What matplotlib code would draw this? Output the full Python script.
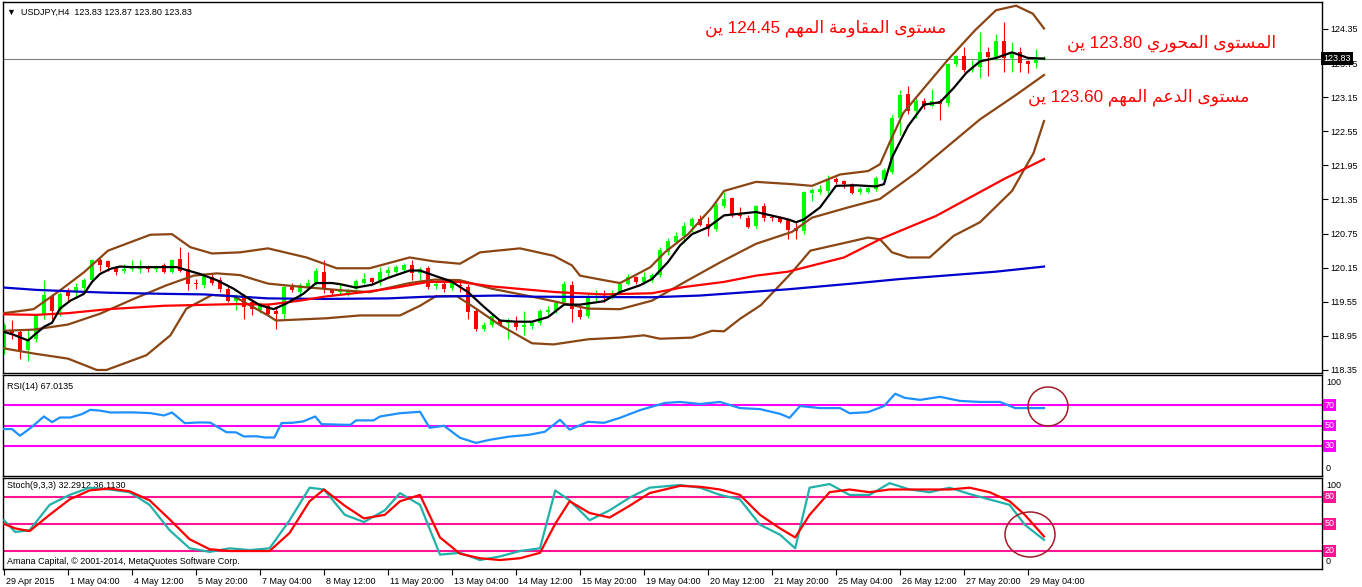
"""USDJPY H4 chart (MT4 style): candles, bands, MAs, RSI and Stochastic panes."""

import re

import matplotlib

matplotlib.use("Agg")
import matplotlib.pyplot as plt  # noqa: E402
from matplotlib.patches import Ellipse  # noqa: E402
from matplotlib.transforms import ScaledTranslation, blended_transform_factory  # noqa: E402

plt.rcParams["font.family"] = ["Liberation Sans", "DejaVu Sans"]

W, H = 1362, 587

# --- data ---------------------------------------------------------------------

opens = [118.73, 119.05, 119.02, 118.70, 118.90, 119.31, 119.66, 119.40, 119.72, 119.72,
         119.80, 119.93, 120.28, 120.26, 120.16, 120.10, 120.12, 120.13, 120.15, 120.13,
         120.19, 120.08, 120.30, 120.13, 119.87, 119.84, 119.98, 119.93, 119.77, 119.56,
         119.62, 119.55, 119.41, 119.48, 119.38, 119.34, 119.81, 119.73, 119.80, 119.88,
         120.08, 119.75, 119.72, 119.71, 119.77, 119.88, 119.96, 119.91, 120.05, 120.08,
         120.11, 120.20, 120.05, 120.15, 119.82, 119.87, 119.79, 119.85, 119.81, 119.38,
         119.08, 119.15, 119.23, 119.18, 119.18, 119.10, 119.12, 119.18, 119.37, 119.38,
         119.55, 119.85, 119.41, 119.30, 119.63, 119.63, 119.62, 119.72, 119.87, 119.98,
         119.90, 119.93, 120.02, 120.42, 120.60, 120.70, 120.89, 121.00, 120.92, 120.83,
         121.23, 121.37, 121.08, 121.03, 120.88, 121.24, 121.05, 121.03, 120.99, 120.84,
         120.79, 121.47, 121.48, 121.50, 121.71, 121.68, 121.62, 121.48, 121.49, 121.53,
         121.70, 121.83, 122.79, 123.21, 122.90, 123.09, 123.00, 123.09, 123.04, 123.74,
         123.87, 123.63, 123.69, 123.95, 123.86, 124.13, 123.84, 123.94, 123.79, 123.75,
         123.83]
highs = [119.18, 119.23, 119.05, 119.08, 119.34, 119.93, 119.69, 119.72, 119.80, 119.88,
         119.97, 120.31, 120.32, 120.28, 120.18, 120.22, 120.28, 120.28, 120.20, 120.20,
         120.23, 120.31, 120.51, 120.42, 119.95, 120.05, 120.05, 119.98, 119.82, 119.68,
         119.68, 119.60, 119.55, 119.52, 119.45, 119.86, 119.88, 119.88, 119.95, 120.14,
         120.28, 119.78, 119.87, 119.78, 119.95, 120.06, 119.98, 120.17, 120.17, 120.20,
         120.23, 120.28, 120.16, 120.18, 119.92, 119.92, 119.95, 119.90, 119.86, 119.42,
         119.20, 119.33, 119.25, 119.26, 119.30, 119.38, 119.22, 119.42, 119.47, 119.57,
         119.92, 119.92, 119.45, 119.68, 119.75, 119.75, 119.75, 119.90, 120.04, 120.01,
         120.08, 120.06, 120.52, 120.67, 120.78, 120.95, 121.05, 121.08, 121.05, 121.30,
         121.48, 121.40, 121.22, 121.07, 121.26, 121.28, 121.08, 121.06, 121.00, 120.98,
         121.50, 121.55, 121.60, 121.78, 121.74, 121.70, 121.64, 121.57, 121.58, 121.76,
         121.90, 122.84, 123.27, 123.35, 123.17, 123.14, 123.30, 123.12, 123.76, 123.90,
         124.04, 123.80, 124.30, 124.03, 124.27, 124.47, 124.12, 124.03, 123.80, 124.00,
         123.87]
lows = [118.64, 118.90, 118.55, 118.50, 118.85, 119.25, 119.25, 119.30, 119.55, 119.62,
        119.75, 119.90, 120.10, 120.10, 120.03, 120.05, 120.10, 120.06, 120.08, 120.08,
        120.05, 120.05, 120.08, 119.75, 119.77, 119.80, 119.85, 119.72, 119.55, 119.40,
        119.25, 119.32, 119.35, 119.30, 119.08, 119.25, 119.72, 119.64, 119.75, 119.85,
        119.70, 119.65, 119.68, 119.66, 119.75, 119.86, 119.84, 119.85, 120.00, 120.05,
        120.08, 119.93, 119.92, 119.78, 119.78, 119.72, 119.76, 119.72, 119.25, 119.03,
        119.03, 119.10, 119.12, 118.90, 119.05, 118.96, 119.08, 119.15, 119.30, 119.35,
        119.52, 119.20, 119.25, 119.26, 119.55, 119.55, 119.60, 119.68, 119.85, 119.87,
        119.87, 119.90, 119.99, 120.38, 120.56, 120.58, 120.78, 120.88, 120.70, 120.80,
        121.20, 121.05, 121.03, 120.84, 120.85, 120.98, 120.97, 120.93, 120.65, 120.65,
        120.74, 121.33, 121.44, 121.45, 121.62, 121.56, 121.45, 121.44, 121.47, 121.50,
        121.66, 121.80, 122.49, 122.85, 122.78, 122.95, 122.97, 122.75, 123.00, 123.70,
        123.60, 123.60, 123.49, 123.52, 123.80, 123.60, 123.60, 123.60, 123.58, 123.67,
        123.80]
closes = [119.14, 119.00, 118.70, 118.87, 119.31, 119.67, 119.38, 119.69, 119.65, 119.81,
          119.93, 120.28, 120.20, 120.17, 120.08, 120.13, 120.15, 120.16, 120.13, 120.14,
          120.07, 120.28, 120.10, 119.87, 119.86, 120.01, 119.88, 119.77, 119.57, 119.61,
          119.46, 119.42, 119.50, 119.34, 119.33, 119.81, 119.75, 119.84, 119.88, 120.10,
          119.78, 119.70, 119.76, 119.76, 119.91, 119.95, 119.90, 120.07, 120.11, 120.16,
          120.20, 120.05, 120.13, 119.81, 119.87, 119.78, 119.89, 119.83, 119.37, 119.08,
          119.15, 119.30, 119.15, 119.20, 119.10, 119.15, 119.18, 119.38, 119.41, 119.52,
          119.87, 119.43, 119.28, 119.62, 119.64, 119.62, 119.68, 119.87, 119.98, 119.90,
          119.99, 120.03, 120.47, 120.62, 120.70, 120.88, 121.00, 120.90, 120.83, 121.25,
          121.36, 121.09, 121.06, 120.86, 121.23, 121.02, 121.02, 120.96, 120.82, 120.80,
          121.48, 121.52, 121.53, 121.71, 121.66, 121.62, 121.47, 121.53, 121.55, 121.73,
          121.87, 122.79, 123.19, 122.90, 123.09, 123.00, 123.08, 123.03, 123.74, 123.88,
          123.63, 123.67, 123.95, 123.86, 124.13, 123.84, 123.95, 123.76, 123.74, 123.84,
          123.83]

band_up_x = [0, 3.7, 7, 10, 13, 18.3, 21, 23.3, 26, 29.5, 33, 37.8, 41.6, 45.7, 50.7, 53.8,
             57, 59.5, 64.5, 68.7, 71, 72, 75, 77, 78.8, 80.8, 82.6, 85.5, 88.5, 90, 94,
             98.5, 101, 104.5, 108, 109.5, 110.7, 112.4, 115, 118, 121.4, 124, 126.5,
             128.6, 130]
band_up = [119.35, 119.42, 119.75, 120.07, 120.45, 120.73, 120.74, 120.51, 120.40, 120.42,
           120.49, 120.33, 120.14, 120.14, 120.33, 120.26, 120.22, 120.42, 120.49, 120.36,
           120.19, 120.01, 119.93, 119.88, 120.01, 120.16, 120.42, 120.74, 121.21, 121.50,
           121.66, 121.62, 121.59, 121.79, 121.85, 121.97, 122.35, 122.87, 123.31, 123.81,
           124.33, 124.68, 124.76, 124.62, 124.36]
band_mid_x = [0, 3.7, 8, 12, 16.2, 20.3, 23.7, 26.6, 29.5, 33, 37.4, 42.4, 45.7, 50.7, 53.8,
              57, 61, 66, 68.7, 73, 77, 81, 85.5, 89.6, 94, 98.5, 101, 105.5, 109.5, 114,
              118, 122, 126.5, 130]
band_mid = [119.04, 119.06, 119.15, 119.34, 119.60, 119.84, 120.01, 120.05, 120.02, 119.87,
            119.81, 119.75, 119.72, 119.88, 119.94, 119.93, 119.78, 119.64, 119.56, 119.43,
            119.42, 119.57, 119.93, 120.25, 120.57, 120.78, 121.03, 121.21, 121.36, 121.82,
            122.29, 122.76, 123.19, 123.54]
band_lo_x = [0, 3.7, 8, 11.6, 12.8, 17.8, 20.8, 22.8, 26, 28.7, 33, 34, 40.3, 44.5, 49.5, 52,
             54, 56.6, 59, 62, 66, 68.7, 73, 77, 80, 82, 86, 88.5, 90, 92, 94.6, 98.5,
             100.8, 105.5, 108, 109.5, 111, 113, 115.7, 118.7, 122, 126, 128.7, 130]
band_lo = [118.73, 118.64, 118.55, 118.35, 118.35, 118.61, 118.96, 119.43, 119.67, 119.65,
           119.31, 119.22, 119.26, 119.31, 119.31, 119.48, 119.65, 119.65, 119.43, 119.14,
           118.82, 118.80, 118.89, 118.92, 118.96, 118.90, 118.92, 119.04, 119.03, 119.25,
           119.49, 120.07, 120.45, 120.60, 120.68, 120.65, 120.42, 120.33, 120.33, 120.71,
           120.95, 121.50, 122.17, 122.73]

ma_red_x = [0, 4, 8, 13, 20, 29, 33, 37, 40, 45, 49, 53, 57, 61, 65, 69, 75, 81, 85, 90, 94,
            98, 105, 109.5, 116.5, 125, 130]
ma_red = [119.33, 119.32, 119.35, 119.42, 119.48, 119.51, 119.50, 119.57, 119.64, 119.72,
          119.80, 119.90, 119.90, 119.82, 119.77, 119.72, 119.68, 119.70, 119.81, 119.90,
          120.01, 120.08, 120.33, 120.65, 121.06, 121.71, 122.06]
ma_blue_x = [0, 4, 9, 13, 20, 25, 33, 40, 48, 53, 62, 66, 81, 87, 94, 98, 106, 112, 124, 130]
ma_blue = [119.80, 119.76, 119.73, 119.71, 119.69, 119.68, 119.61, 119.60, 119.61, 119.64,
           119.66, 119.64, 119.63, 119.66, 119.73, 119.77, 119.87, 119.95, 120.08, 120.17]
ma_black_x = [0, 1, 3, 5, 6, 7, 8.3, 10, 11, 12, 13.3, 14.5, 16, 21.6, 23, 24.5, 26.6, 28.7,
              30.3, 32, 33.7, 35.3, 37.4, 39, 41, 42, 44, 46, 48, 50.7, 52, 53.8, 55.9, 58,
              60, 62, 64, 66, 68, 70, 72, 75, 77, 79.5, 81, 83, 84.5, 86, 88, 90, 94, 96.5,
              98, 99, 100, 102, 104, 106.5, 109, 110, 111, 113, 115, 117, 118.7, 120.3, 122,
              124, 126, 128, 130]
ma_black = [119.02, 118.98, 118.87, 119.11, 119.18, 119.43, 119.57, 119.69, 119.90, 120.04,
            120.13, 120.17, 120.16, 120.16, 120.10, 120.04, 119.93, 119.78, 119.63, 119.49,
            119.42, 119.52, 119.69, 119.88, 119.88, 119.86, 119.80, 119.85, 119.97, 120.10,
            120.10, 120.01, 119.91, 119.72, 119.46, 119.22, 119.20, 119.20, 119.28, 119.50,
            119.50, 119.56, 119.72, 119.84, 119.95, 120.25, 120.54, 120.74, 120.86, 121.07,
            121.13, 121.05, 121.00, 120.95, 121.00, 121.21, 121.59, 121.60, 121.58, 121.62,
            122.09, 122.64, 123.02, 123.06, 123.31, 123.58, 123.78, 123.84, 123.94, 123.84,
            123.83]

rsi_x = [0, 1, 2, 3.3, 5, 6, 7, 8.3, 9.7, 10.8, 12, 13.3, 16, 18.3, 20, 21, 22.6, 24.5,
         25.8, 26.6, 27.8, 29, 30, 31.6, 32.6, 33.8, 34.7, 36, 37.4, 38.9, 39.7, 43.3, 44,
         46.2, 47, 49.5, 52, 53.2, 55, 57, 59, 60.7, 63, 65.7, 67.6, 69.5, 70.7, 73, 75,
         77, 79.5, 82.6, 84.5, 87, 89.5, 92, 94.5, 97, 98.2, 99.5, 102, 104.5, 105.7, 108,
         110, 111.4, 112.6, 114.5, 117, 119.5, 122, 124.5, 126.4, 127.6, 130]
rsi = [46.5, 46.5, 40.0, 47.5, 58.8, 53.3, 57.8, 57.8, 61.0, 65.3, 64.5, 62.7, 62.8, 62.1,
       59.8, 62.7, 52.3, 53.0, 52.8, 49.0, 43.5, 43.3, 39.3, 39.5, 38.3, 38.3, 52.4, 52.6,
       54.0, 58.8, 51.3, 50.6, 55.0, 55.0, 58.8, 62.0, 63.4, 47.8, 49.7, 38.0, 33.0, 36.0,
       39.0, 41.0, 43.9, 55.6, 46.0, 53.6, 52.6, 57.5, 65.0, 72.0, 73.0, 71.0, 73.0, 67.0,
       66.0, 61.4, 57.5, 69.0, 67.0, 67.0, 62.0, 63.0, 69.0, 81.0, 77.0, 75.0, 78.0, 74.0,
       73.0, 73.0, 67.0, 67.0, 67.0]
rsi_levels = [70, 50, 30]

stoch_x = [0, 1.4, 3.2, 5.7, 8.2, 10.7, 13.2, 15.7, 18.2, 20.7, 23.2, 25.7, 28.2, 30.7, 33.2,
           35.7, 38.2, 40, 42.6, 45, 47.6, 49.5, 52, 54.5, 57, 59.5, 62, 64.5, 67, 68.9,
           70.7, 73.2, 75.7, 78.2, 80.7, 84.5, 87, 89.5, 92, 94.5, 97, 98.9, 100.7, 103.2,
           105.7, 108.2, 110.7, 113.2, 115.7, 118.2, 120.7, 123.2, 125.7, 127.6, 130]
stoch_main = [54, 41, 43, 71, 82, 90, 88, 85, 71, 43, 23, 19, 23, 21, 23, 54, 90, 88, 60,
              52, 65, 84, 71, 16, 18, 10, 14, 20, 23, 87, 76, 54, 65, 79, 90, 93, 90, 82,
              77, 49, 38, 23, 90, 94, 82, 82, 95, 88, 85, 90, 83, 77, 71, 49, 32.3]
stoch_signal = [50, 45, 42, 60, 77, 87, 89, 86, 76, 55, 33, 22, 20, 20, 20, 40, 75, 88, 70,
                56, 60, 75, 82, 35, 17, 12, 10, 12, 18, 50, 75, 62, 57, 70, 84, 92, 91, 88,
                82, 60, 45, 35, 60, 85, 88, 85, 88, 88, 88, 88, 90, 85, 75, 60, 36.1]
stoch_levels = [80, 50, 20]

price_ticks = [118.35, 118.95, 119.55, 120.15, 120.75, 121.35, 121.95, 122.55, 123.15,
               123.75, 124.35]
time_tick_bars = [0, 8, 16, 24, 32, 40, 48, 56, 64, 72, 80, 88, 96, 104, 112, 120, 128]
time_tick_labels = ["29 Apr 2015", "1 May 04:00", "4 May 12:00", "5 May 20:00",
                    "7 May 04:00", "8 May 12:00", "11 May 20:00", "13 May 04:00",
                    "14 May 12:00", "15 May 20:00", "19 May 04:00", "20 May 12:00",
                    "21 May 20:00", "25 May 04:00", "26 May 12:00", "27 May 20:00",
                    "29 May 04:00"]
last_price = 123.83

# --- arabic text: matplotlib has no shaping, so join letters by hand -----------

AR_FORMS = {  # isolated, final, initial, medial
    "ا": ("\ufe8d", "\ufe8e", None, None),
    "ة": ("\ufe93", "\ufe94", None, None),
    "ت": ("\ufe95", "\ufe96", "\ufe97", "\ufe98"),
    "ح": ("\ufea1", "\ufea2", "\ufea3", "\ufea4"),
    "د": ("\ufea9", "\ufeaa", None, None),
    "ر": ("\ufead", "\ufeae", None, None),
    "س": ("\ufeb1", "\ufeb2", "\ufeb3", "\ufeb4"),
    "ع": ("\ufec9", "\ufeca", "\ufecb", "\ufecc"),
    "ق": ("\ufed5", "\ufed6", "\ufed7", "\ufed8"),
    "ل": ("\ufedd", "\ufede", "\ufedf", "\ufee0"),
    "م": ("\ufee1", "\ufee2", "\ufee3", "\ufee4"),
    "ن": ("\ufee5", "\ufee6", "\ufee7", "\ufee8"),
    "ه": ("\ufee9", "\ufeea", "\ufeeb", "\ufeec"),
    "و": ("\ufeed", "\ufeee", None, None),
    "ى": ("\ufeef", "\ufef0", None, None),
    "ي": ("\ufef1", "\ufef2", "\ufef3", "\ufef4"),
}


def shape_arabic(text):
    """Pick presentation forms and put the line in visual (left-to-right) order."""
    out = []
    for i, ch in enumerate(text):
        forms = AR_FORMS.get(ch)
        if forms is None:
            out.append(ch)
            continue
        prev = AR_FORMS.get(text[i - 1]) if i > 0 else None
        nxt = AR_FORMS.get(text[i + 1]) if i + 1 < len(text) else None
        join_prev = prev is not None and prev[2] is not None
        join_next = nxt is not None and forms[2] is not None
        if join_prev and join_next:
            out.append(forms[3])
        elif join_prev:
            out.append(forms[1])
        elif join_next:
            out.append(forms[2])
        else:
            out.append(forms[0])
    visual = "".join(reversed(out))
    return re.sub(r"[\d.]+", lambda m: m.group(0)[::-1], visual)


notes = [
    ("مستوى المقاومة المهم 124.45 ين", 826, 28),
    ("المستوى المحوري 123.80 ين", 1172, 43),
    ("مستوى الدعم المهم 123.60 ين", 1139, 97),
]

# --- figure -------------------------------------------------------------------

fig = plt.figure(figsize=(W / 100, H / 100), dpi=100)
fig.patch.set_facecolor("white")


def px_axes(x0, y0, x1, y1):
    ax = fig.add_axes([x0 / W, 1 - y1 / H, (x1 - x0) / W, (y1 - y0) / H])
    ax.tick_params(left=False, labelleft=False, bottom=False, labelbottom=False)
    for sp in ax.spines.values():
        sp.set_linewidth(1.0)
        sp.set_color("black")
    ax.set_xlim(-0.125, 164.75)
    return ax


ax = px_axes(3, 2, 1322, 373)
ax_rsi = px_axes(3, 375, 1322, 476)
ax_st = px_axes(3, 478, 1322, 569)

# candles
for i, (o, h, lo, c) in enumerate(zip(opens, highs, lows, closes)):
    col = "#00ff00" if c >= o else "#ff0000"
    ax.vlines(i, lo, h, color=col, lw=0.8, zorder=2)
    ax.bar(i, max(abs(c - o), 0.018), bottom=min(o, c), width=0.62, color=col,
           linewidth=0, zorder=2)

brown = "#8b4513"
ax.plot(band_up_x, band_up, color=brown, lw=1.6, zorder=3)
ax.plot(band_mid_x, band_mid, color=brown, lw=1.6, zorder=3)
ax.plot(band_lo_x, band_lo, color=brown, lw=1.6, zorder=3)
ax.plot(ma_blue_x, ma_blue, color="#0000cd", lw=1.6, zorder=3)
ax.plot(ma_red_x, ma_red, color="#ff0000", lw=1.6, zorder=3)
ax.plot(ma_black_x, ma_black, color="black", lw=1.6, zorder=4)
ax.axhline(last_price, color="#808080", lw=0.8, zorder=1)

ax.set_ylim(118.297, 124.825)
ax.yaxis.tick_right()
ax.set_yticks(price_ticks)
ax.set_yticklabels([f"{p:.2f}" for p in price_ticks])
ax.tick_params(axis="y", right=True, labelright=True, direction="out", length=4,
               width=0.8, pad=2, labelsize=6.5)
yblend = blended_transform_factory(ax.transAxes, ax.transData)
ax.text(1.001, last_price, f"{last_price:.2f}", transform=yblend, color="white",
        fontsize=6.5, va="center", ha="left", zorder=10, clip_on=False,
        bbox=dict(boxstyle="square,pad=0.25", fc="black", ec="none"))

ax.text(0.003, 0.985, "\u25bc  USDJPY,H4  123.83 123.87 123.80 123.83",
        transform=ax.transAxes, fontsize=6.5, va="top", ha="left")

for txt, cx, cy in notes:
    fig.text(cx / W, 1 - cy / H, shape_arabic(txt), color="#ff0000", fontsize=12.3,
             ha="center", va="center")

# RSI pane
ax_rsi.set_ylim(0.7, 99.3)
for lv in rsi_levels:
    ax_rsi.axhline(lv, color="#ff00ff", lw=1.5, zorder=1)
ax_rsi.plot(rsi_x, rsi, color="#1e90ff", lw=1.6, zorder=3)
ax_rsi.text(0.003, 0.93, "RSI(14) 67.0135", transform=ax_rsi.transAxes, fontsize=6.5,
            va="top", ha="left")
rblend = blended_transform_factory(ax_rsi.transAxes, ax_rsi.transData)
for lv in rsi_levels:
    ax_rsi.text(1.002, lv, str(lv), transform=rblend, color="white", fontsize=6.5,
                va="center", ha="left", clip_on=False,
                bbox=dict(boxstyle="square,pad=0.15", fc="#ff00ff", ec="none"))
ax_rsi.text(1.003, 0.97, "100", transform=ax_rsi.transAxes, fontsize=6.5, va="top")
ax_rsi.text(1.003, 0.03, "0", transform=ax_rsi.transAxes, fontsize=6.5, va="bottom")

# Stochastic pane
ax_st.set_ylim(0.1, 100.7)
for lv in stoch_levels:
    ax_st.axhline(lv, color="#ff1493", lw=1.5, zorder=1)
ax_st.text(0.003, 0.97, "Stoch(9,3,3) 32.2912 36.1130", transform=ax_st.transAxes,
           fontsize=6.5, va="top", ha="left", zorder=1)
ax_st.text(0.003, 0.03, "Amana Capital, \u00a9 2001-2014, MetaQuotes Software Corp.",
           transform=ax_st.transAxes, fontsize=6.5, va="bottom", ha="left")
ax_st.plot(stoch_x, stoch_main, color="#20b2aa", lw=1.6, zorder=3)
ax_st.plot(stoch_x, stoch_signal, color="#ff0000", lw=1.6, zorder=3)
sblend = blended_transform_factory(ax_st.transAxes, ax_st.transData)
for lv in stoch_levels:
    ax_st.text(1.002, lv, str(lv), transform=sblend, color="white", fontsize=6.5,
               va="center", ha="left", clip_on=False,
               bbox=dict(boxstyle="square,pad=0.15", fc="#ff1493", ec="none"))
ax_st.text(1.003, 0.97, "100", transform=ax_st.transAxes, fontsize=6.5, va="top")
ax_st.text(1.003, 0.03, "0", transform=ax_st.transAxes, fontsize=6.5, va="bottom")

ax_st.set_xticks(time_tick_bars)
ax_st.set_xticklabels(time_tick_labels)
ax_st.tick_params(axis="x", bottom=True, labelbottom=True, direction="out", length=4,
                  width=0.8, pad=1.5, labelsize=6.5)
shift = ScaledTranslation(2 / 100, 0, fig.dpi_scale_trans)
for lab in ax_st.get_xticklabels():
    lab.set_ha("left")
    lab.set_transform(lab.get_transform() + shift)

# hand-drawn circles
for cx, cy, w, h in [(1048, 406.5, 40, 39), (1030, 534.5, 50, 45)]:
    fig.add_artist(Ellipse((cx / W, 1 - cy / H), w / W, h / H, transform=fig.transFigure,
                           fill=False, ec="#a01c28", lw=1.1))

fig.savefig("out.png", dpi=100)
